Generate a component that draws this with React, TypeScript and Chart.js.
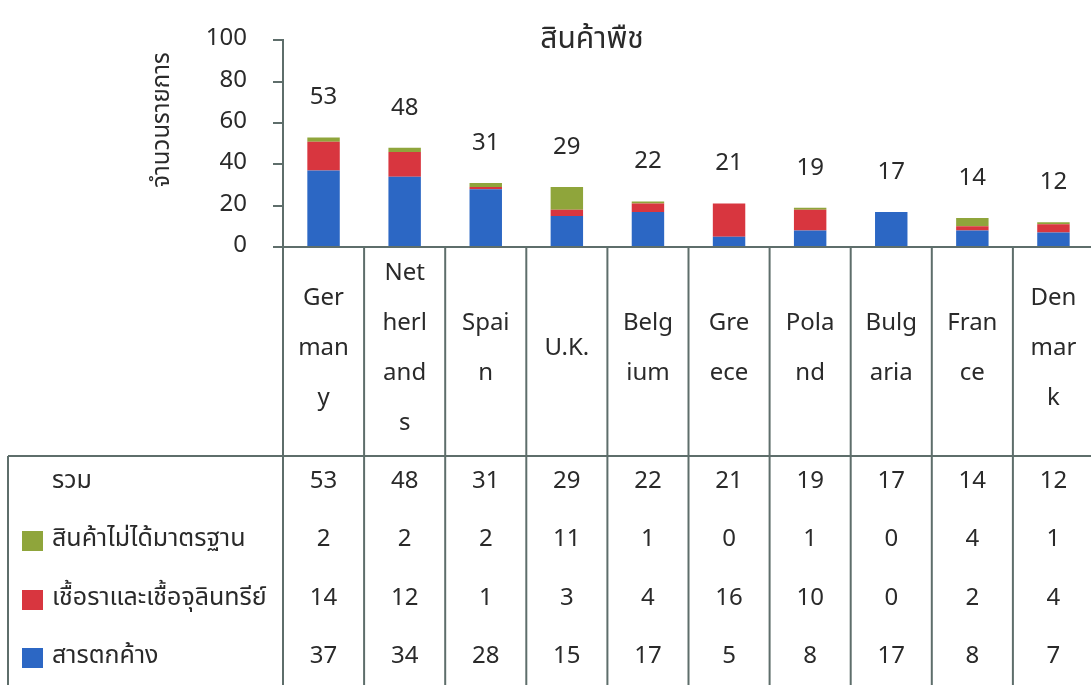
import React, { useEffect, useRef } from "react";
import { Chart, registerables } from "chart.js";

Chart.register(...registerables);

const chartTitle = "สินค้าพืช";
const yAxisTitle = "จำนวนรายการ";
const categories = ["Germany", "Netherlands", "Spain", "U.K.", "Belgium", "Greece", "Poland", "Bulgaria", "France", "Denmark"];
const categoryLines = [
  ["Ger", "man", "y"],
  ["Net", "herl", "and", "s"],
  ["Spai", "n"],
  ["U.K."],
  ["Belg", "ium"],
  ["Gre", "ece"],
  ["Pola", "nd"],
  ["Bulg", "aria"],
  ["Fran", "ce"],
  ["Den", "mar", "k"],
];
const totalLabel = "รวม";
const substandardLabel = "สินค้าไม่ได้มาตรฐาน";
const fungiLabel = "เชื้อราและเชื้อจุลินทรีย์";
const residueLabel = "สารตกค้าง";
const totals = [53, 48, 31, 29, 22, 21, 19, 17, 14, 12];
const substandard = [2, 2, 2, 11, 1, 0, 1, 0, 4, 1];
const fungi = [14, 12, 1, 3, 4, 16, 10, 0, 2, 4];
const residue = [37, 34, 28, 15, 17, 5, 8, 17, 8, 7];
const yMin = 0;
const yMax = 100;
const yStep = 20;

const BLUE = "#2c67c4";
const RED = "#d8363f";
const GREEN = "#8fa53b";
const LINE = "#5e6e6b";
const TEXT = "#2a2a2a";
const FONT = "'Noto Sans Thai', 'Noto Sans', 'DejaVu Sans', sans-serif";

const W = 1094;
const H = 685;
const AXIS_X = 283;
const TOP = 33;
const BASE = 247;
const TABLE_TOP = 456;
const ROW_Y = [483, 541, 600, 658];

const tablePlugin = {
  id: "tablePlugin",
  afterDraw(chart: any) {
    const ctx = chart.ctx as CanvasRenderingContext2D;
    const area = chart.chartArea;
    const xs = chart.scales.x;
    const ys = chart.scales.y;
    const n = categories.length;
    const colW = (area.right - area.left) / n;

    ctx.save();
    ctx.strokeStyle = LINE;
    ctx.lineWidth = 2;
    const line = (x1: number, y1: number, x2: number, y2: number) => {
      ctx.beginPath();
      ctx.moveTo(x1, y1);
      ctx.lineTo(x2, y2);
      ctx.stroke();
    };
    line(AXIS_X - 10, area.bottom, area.right, area.bottom);
    for (let i = 0; i <= n; i++) {
      const x = area.left + i * colW;
      line(x, area.bottom, x, H);
    }
    line(8, TABLE_TOP, area.right, TABLE_TOP);
    line(8, TABLE_TOP, 8, H);

    ctx.fillStyle = TEXT;
    ctx.textAlign = "center";
    ctx.textBaseline = "middle";

    // title
    ctx.font = `30px ${FONT}`;
    ctx.fillText(chartTitle, 592, 42);

    // y title
    ctx.save();
    ctx.translate(164, 120);
    ctx.rotate(-Math.PI / 2);
    ctx.font = `24px ${FONT}`;
    ctx.fillText(yAxisTitle, 0, 0);
    ctx.restore();

    ctx.font = `24px ${FONT}`;
    // totals above bars
    for (let i = 0; i < n; i++) {
      const cx = xs.getPixelForValue(i);
      const y = ys.getPixelForValue(totals[i]) - 38;
      ctx.fillText(String(totals[i]), cx, y);
    }

    // category names
    const midY = (area.bottom + TABLE_TOP) / 2 - 1;
    for (let i = 0; i < n; i++) {
      const cx = xs.getPixelForValue(i);
      const lines = categoryLines[i];
      const start = midY - ((lines.length - 1) * 50) / 2;
      lines.forEach((t, k) => ctx.fillText(t, cx, start + k * 50));
    }

    // data rows
    const rows = [
      { label: totalLabel, values: totals, color: null as string | null },
      { label: substandardLabel, values: substandard, color: GREEN },
      { label: fungiLabel, values: fungi, color: RED },
      { label: residueLabel, values: residue, color: BLUE },
    ];
    rows.forEach((r, ri) => {
      const y = ROW_Y[ri];
      if (r.color) {
        ctx.fillStyle = r.color;
        ctx.fillRect(22, y - 10, 21, 20);
      }
      ctx.fillStyle = TEXT;
      ctx.textAlign = "left";
      ctx.font = `25px ${FONT}`;
      ctx.fillText(r.label, 52, y);
      ctx.textAlign = "center";
      ctx.font = `24px ${FONT}`;
      for (let i = 0; i < n; i++) {
        ctx.fillText(String(r.values[i]), xs.getPixelForValue(i), y);
      }
    });
    ctx.restore();
  },
};

export default function App() {
  const ref = useRef<HTMLCanvasElement | null>(null);
  useEffect(() => {
    if (!ref.current) return;
    const chart = new Chart(ref.current, {
      type: "bar",
      data: {
        labels: categories,
        datasets: [
          { label: residueLabel, data: residue, backgroundColor: BLUE, barPercentage: 0.4, categoryPercentage: 1 },
          { label: fungiLabel, data: fungi, backgroundColor: RED, barPercentage: 0.4, categoryPercentage: 1 },
          { label: substandardLabel, data: substandard, backgroundColor: GREEN, barPercentage: 0.4, categoryPercentage: 1 },
        ],
      },
      options: {
        responsive: false,
        animation: false,
        layout: { padding: { left: 0, right: 0, top: TOP, bottom: H - BASE } },
        plugins: {
          legend: { display: false },
          tooltip: { enabled: false },
          title: { display: false },
        },
        scales: {
          x: { stacked: true, display: false },
          y: {
            stacked: true,
            min: yMin,
            max: yMax,
            ticks: { stepSize: yStep, padding: 26, color: TEXT, font: { size: 24, family: FONT } },
            grid: { drawOnChartArea: false, drawTicks: true, tickLength: 10, color: LINE, lineWidth: 2 },
            border: { display: true, color: LINE, width: 2 },
            afterFit: (s: any) => {
              s.width = AXIS_X;
            },
          },
        },
      },
      plugins: [tablePlugin],
    } as any);
    return () => chart.destroy();
  }, []);
  return (
    <div style={{ position: "absolute", left: 0, top: 0, width: 1091, height: H, overflow: "hidden", background: "#fff" }}>
      <canvas ref={ref} width={W} height={H} style={{ display: "block", width: W, height: H }} />
    </div>
  );
}
